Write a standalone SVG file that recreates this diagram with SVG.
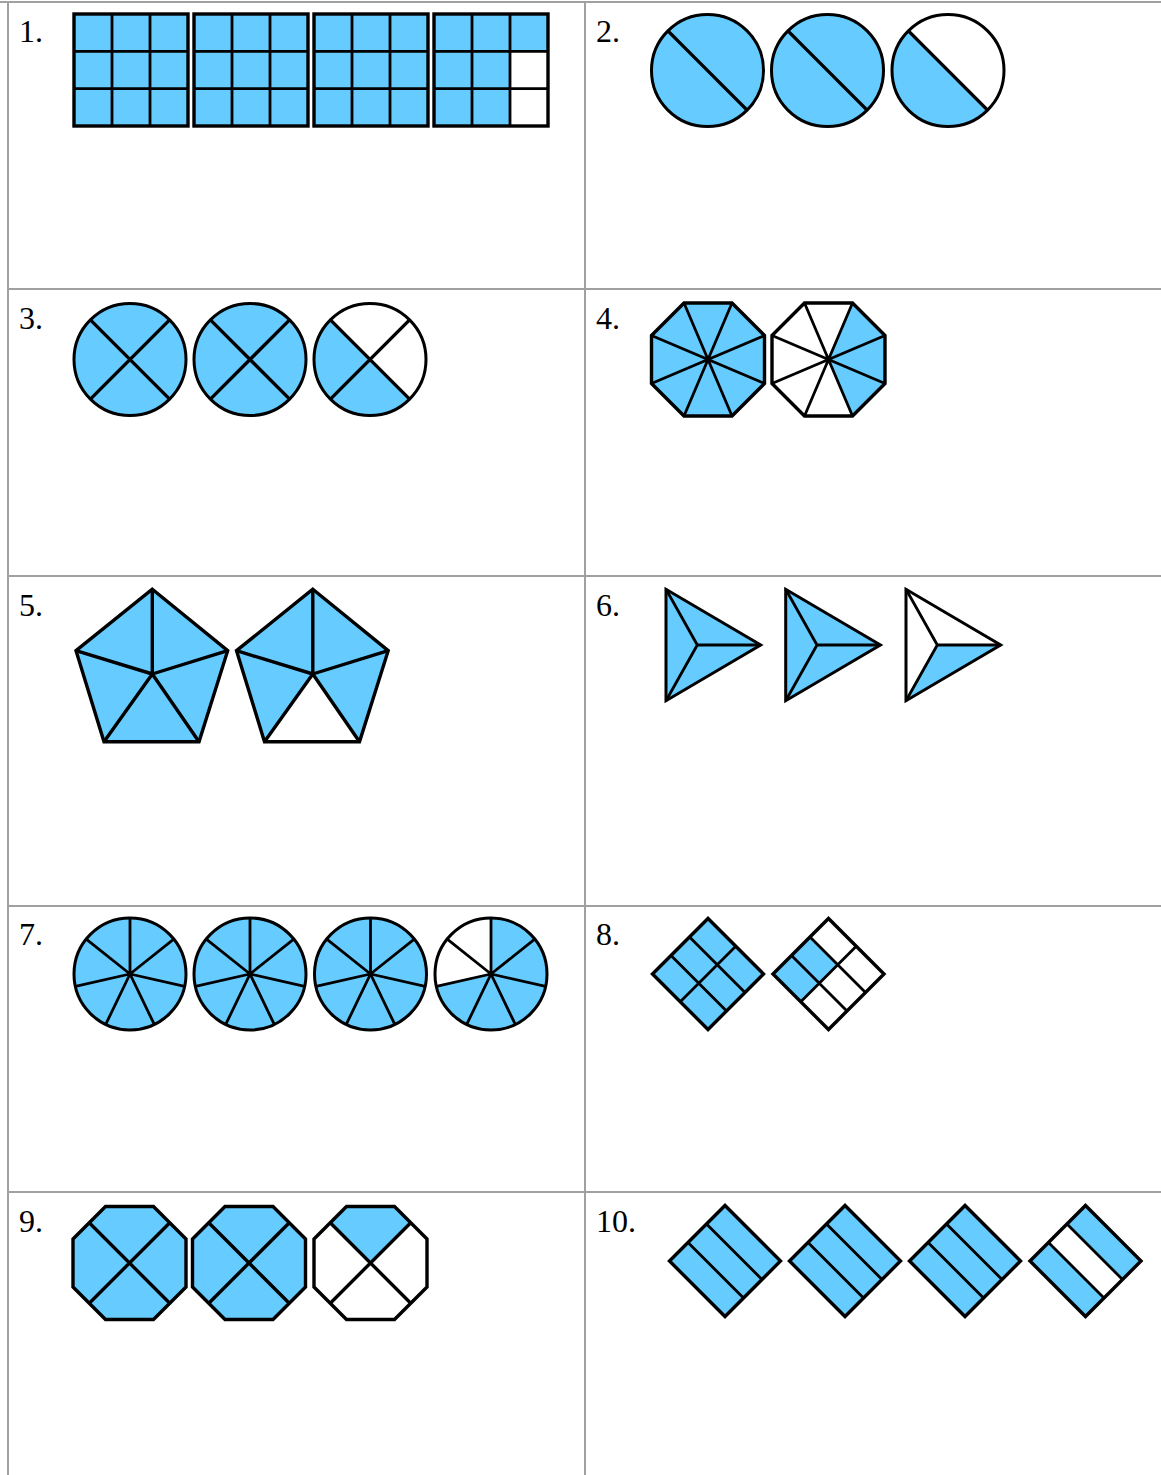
<svg xmlns="http://www.w3.org/2000/svg" width="1161" height="1475" viewBox="0 0 1161 1475">
<style>
.bg{fill:#ffffff}
.grid{stroke:#a0a0a0;stroke-width:2;fill:none}
.lbl{font-family:"Liberation Serif","Times New Roman",serif;font-size:32px;fill:#000}
.b{fill:#66ccff;stroke:none}
.w{fill:#ffffff;stroke:none}
.o{fill:none;stroke:#000;stroke-width:3;stroke-linejoin:miter}
.o3{fill:none;stroke:#000;stroke-width:3.4;stroke-linejoin:miter}
.l{stroke:#000;stroke-width:2.8;fill:none}
.l3{stroke:#000;stroke-width:3.4;fill:none}
</style>
<rect class="bg" x="0" y="0" width="1161" height="1475"/>
<g id="table">
<line class="grid" x1="0" y1="2" x2="1161" y2="2"/>
<line class="grid" x1="8" y1="289" x2="1161" y2="289"/>
<line class="grid" x1="8" y1="576" x2="1161" y2="576"/>
<line class="grid" x1="8" y1="906" x2="1161" y2="906"/>
<line class="grid" x1="8" y1="1192" x2="1161" y2="1192"/>
<line class="grid" x1="8" y1="2" x2="8" y2="1475"/>
<line class="grid" x1="585" y1="2" x2="585" y2="1475"/>
</g>
<g id="labels">
<text class="lbl" x="19" y="42">1.</text>
<text class="lbl" x="596" y="42">2.</text>
<text class="lbl" x="19" y="329">3.</text>
<text class="lbl" x="596" y="329">4.</text>
<text class="lbl" x="19" y="616">5.</text>
<text class="lbl" x="596" y="616">6.</text>
<text class="lbl" x="19" y="945">7.</text>
<text class="lbl" x="596" y="945">8.</text>
<text class="lbl" x="19" y="1232">9.</text>
<text class="lbl" x="596" y="1232">10.</text>
</g>
<defs>
<g id="sq">
<rect class="b" x="0" y="0" width="114" height="112"/>
<path class="l" d="M38,0V112M76,0V112M0,37.3H114M0,74.7H114"/>
<rect class="o3" x="0" y="0" width="114" height="112"/>
</g>
<g id="c2">
<circle class="b" cx="0" cy="0" r="56"/>
<path class="l3" d="M-39.6,-39.6L39.6,39.6"/>
<circle class="o" cx="0" cy="0" r="56"/>
</g>
<g id="c3">
<circle class="b" cx="0" cy="0" r="56"/>
<path class="l3" d="M-39.6,-39.6L39.6,39.6M39.6,-39.6L-39.6,39.6"/>
<circle class="o" cx="0" cy="0" r="56"/>
</g>
<path id="oct" d="M-24,-56.5L24,-56.5L56.5,-24L56.5,24L24,56.5L-24,56.5L-56.5,24L-56.5,-24Z"/>
<path id="octl" class="l" d="M-24,-56.5L24,56.5M24,-56.5L-24,56.5M56.5,-24L-56.5,24M56.5,24L-56.5,-24"/>
<path id="octx" class="l3" d="M-40.25,-40.25L40.25,40.25M40.25,-40.25L-40.25,40.25"/>
<g id="c7">
<circle class="b" cx="0" cy="0" r="56"/>
<path class="l" d="M0,0L0,-56M0,0L43.78,-34.92M0,0L54.6,12.46M0,0L24.3,50.45M0,0L-24.3,50.45M0,0L-54.6,12.46M0,0L-43.78,-34.92"/>
<circle class="o" cx="0" cy="0" r="56"/>
</g>
<path id="dia" d="M-55.5,0L0,-55.5L55.5,0L0,55.5Z"/>
<path id="dia8l" class="l" d="M-37,-18.5L18.5,37M-18.5,-37L37,18.5M-27.75,27.75L27.75,-27.75"/>
<path id="dia10l" class="l" d="M-37,-18.5L18.5,37M-18.5,-37L37,18.5"/>
<g id="tri">
<path class="b" d="M0,0L0,111.4L94.7,55.7Z"/>
<path class="l" d="M31.3,55.7L0,0M31.3,55.7L0,111.4M31.3,55.7L94.7,55.7"/>
<path class="o" d="M0,0L0,111.4L94.7,55.7Z"/>
</g>
</defs>
<g id="n1">
<use href="#sq" x="74" y="14"/>
<use href="#sq" x="194" y="14"/>
<use href="#sq" x="314" y="14"/>
<g transform="translate(434,14)">
<rect class="b" x="0" y="0" width="114" height="112"/>
<rect class="w" x="76" y="37.3" width="38" height="74.7"/>
<path class="l" d="M38,0V112M76,0V112M0,37.3H114M0,74.7H114"/>
<rect class="o3" x="0" y="0" width="114" height="112"/>
</g>
</g>
<g id="n2">
<use href="#c2" x="707.5" y="70.5"/>
<use href="#c2" x="827.5" y="70.5"/>
<g transform="translate(948,70.5)">
<circle class="b" cx="0" cy="0" r="56"/>
<path class="w" d="M-39.6,-39.6A56,56 0 0 1 39.6,39.6Z"/>
<path class="l3" d="M-39.6,-39.6L39.6,39.6"/>
<circle class="o" cx="0" cy="0" r="56"/>
</g>
</g>
<g id="n3">
<use href="#c3" x="130" y="359.5"/>
<use href="#c3" x="250" y="359.5"/>
<g transform="translate(370,359.5)">
<circle class="b" cx="0" cy="0" r="56"/>
<path class="w" d="M-39.6,-39.6A56,56 0 0 1 39.6,39.6Z"/>
<path class="l3" d="M-39.6,-39.6L39.6,39.6M39.6,-39.6L-39.6,39.6"/>
<circle class="o" cx="0" cy="0" r="56"/>
</g>
</g>
<g id="n4">
<g transform="translate(708,359.5)">
<use href="#oct" class="b"/>
<use href="#octl"/>
<use href="#oct" class="o3"/>
</g>
<g transform="translate(828.5,359.5)">
<use href="#oct" class="w"/>
<path class="b" d="M0,0L24,-56.5L56.5,-24L56.5,24L24,56.5Z"/>
<use href="#octl"/>
<use href="#oct" class="o3"/>
</g>
</g>
<g id="n5">
<path class="b" d="M152.3,589.3L227.7,650.7L199,741.7L104,741.7L76,650.7Z"/>
<path class="l3" d="M152.3,674L152.3,589.3M152.3,674L227.7,650.7M152.3,674L199,741.7M152.3,674L104,741.7M152.3,674L76,650.7"/>
<path class="o3" d="M152.3,589.3L227.7,650.7L199,741.7L104,741.7L76,650.7Z"/>
<g transform="translate(160.5,0)">
<path class="b" d="M152.3,589.3L227.7,650.7L199,741.7L104,741.7L76,650.7Z"/>
<path class="w" d="M152.3,674L199,741.7L104,741.7Z"/>
<path class="l3" d="M152.3,674L152.3,589.3M152.3,674L227.7,650.7M152.3,674L199,741.7M152.3,674L104,741.7M152.3,674L76,650.7"/>
<path class="o3" d="M152.3,589.3L227.7,650.7L199,741.7L104,741.7L76,650.7Z"/>
</g>
</g>
<g id="n6">
<use href="#tri" x="666" y="589.3"/>
<use href="#tri" x="785.7" y="589.3"/>
<g transform="translate(906,589.3)">
<path class="w" d="M0,0L0,111.4L94.7,55.7Z"/>
<path class="b" d="M31.3,55.7L0,111.4L94.7,55.7Z"/>
<path class="l" d="M31.3,55.7L0,0M31.3,55.7L0,111.4M31.3,55.7L94.7,55.7"/>
<path class="o" d="M0,0L0,111.4L94.7,55.7Z"/>
</g>
</g>
<g id="n7">
<use href="#c7" x="130" y="974"/>
<use href="#c7" x="250" y="974"/>
<use href="#c7" x="370.5" y="974"/>
<g transform="translate(491,974)">
<circle class="b" cx="0" cy="0" r="56"/>
<path class="w" d="M0,0L-54.6,12.46A56,56 0 0 1 0,-56Z"/>
<path class="l" d="M0,0L0,-56M0,0L43.78,-34.92M0,0L54.6,12.46M0,0L24.3,50.45M0,0L-24.3,50.45M0,0L-54.6,12.46M0,0L-43.78,-34.92"/>
<circle class="o" cx="0" cy="0" r="56"/>
</g>
</g>
<g id="n8">
<g transform="translate(708,974)">
<use href="#dia" class="b"/>
<use href="#dia8l"/>
<use href="#dia" class="o3"/>
</g>
<g transform="translate(828.5,974)">
<use href="#dia" class="w"/>
<path class="b" d="M-55.5,0L-18.5,-37L9.25,-9.25L-27.75,27.75Z"/>
<use href="#dia8l"/>
<use href="#dia" class="o3"/>
</g>
</g>
<g id="n9">
<g transform="translate(129.5,1263)">
<use href="#oct" class="b"/>
<use href="#octx"/>
<use href="#oct" class="o3"/>
</g>
<g transform="translate(249,1263)">
<use href="#oct" class="b"/>
<use href="#octx"/>
<use href="#oct" class="o3"/>
</g>
<g transform="translate(370.5,1263)">
<use href="#oct" class="w"/>
<path class="b" d="M0,0L-40.25,-40.25L-24,-56.5L24,-56.5L40.25,-40.25Z"/>
<use href="#octx"/>
<use href="#oct" class="o3"/>
</g>
</g>
<g id="n10">
<g transform="translate(725,1261)">
<use href="#dia" class="b"/>
<use href="#dia10l"/>
<use href="#dia" class="o3"/>
</g>
<g transform="translate(845,1261)">
<use href="#dia" class="b"/>
<use href="#dia10l"/>
<use href="#dia" class="o3"/>
</g>
<g transform="translate(965,1261)">
<use href="#dia" class="b"/>
<use href="#dia10l"/>
<use href="#dia" class="o3"/>
</g>
<g transform="translate(1085.5,1261)">
<use href="#dia" class="b"/>
<path class="w" d="M-37,-18.5L-18.5,-37L37,18.5L18.5,37Z"/>
<use href="#dia10l"/>
<use href="#dia" class="o3"/>
</g>
</g>
</svg>
